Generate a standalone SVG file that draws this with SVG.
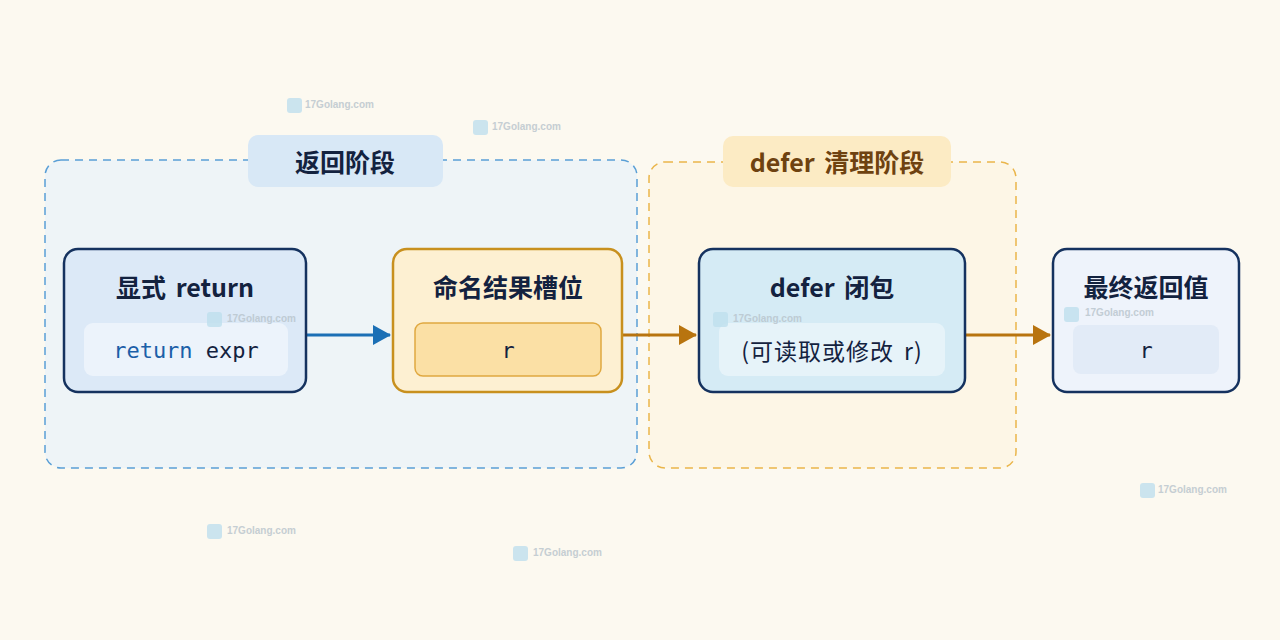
<svg xmlns="http://www.w3.org/2000/svg" width="1280" height="640" viewBox="0 0 1280 640">
<defs>
<marker id="ab" markerWidth="18" markerHeight="20" refX="17" refY="10" orient="auto" markerUnits="userSpaceOnUse" viewBox="0 0 18 20"><path d="M0,0 L18,10 L0,20 Z" fill="#1b6fb5"/></marker>
<marker id="ao" markerWidth="18" markerHeight="20" refX="17" refY="10" orient="auto" markerUnits="userSpaceOnUse" viewBox="0 0 18 20"><path d="M0,0 L18,10 L0,20 Z" fill="#b8740f"/></marker>
<style>
.t{font-family:"Noto Sans CJK SC","Noto Sans",sans-serif;font-weight:700;fill:#13223f;text-anchor:middle;word-spacing:4px}
.m{font-family:"DejaVu Sans Mono","Liberation Mono",monospace;font-size:22px;text-anchor:middle;fill:#13223f}
.w{font-family:"Liberation Sans",sans-serif;font-size:10px;font-weight:700;fill:#b8c4cc}
.node{stroke-width:2.5}
</style>
</defs>
<rect width="1280" height="640" fill="#fcf9f0"/>
<g id="group-return">
<rect x="45" y="160" width="592" height="308" rx="16" fill="#eef4f7" stroke="#5a9fd6" stroke-width="1.5" stroke-dasharray="8 6"/>
<rect x="248" y="135" width="195" height="52" rx="10" fill="#d8e8f6"/>
<text class="t" x="345" y="172" font-size="25">返回阶段</text>
</g>
<g id="group-defer">
<rect x="649" y="162" width="367" height="306" rx="16" fill="#fdf6e6" stroke="#eab54a" stroke-width="1.5" stroke-dasharray="8 6"/>
<rect x="723" y="136" width="228" height="51" rx="10" fill="#fcebc4"/>
<text class="t" x="837" y="172" font-size="25" style="fill:#6e4210">defer 清理阶段</text>
</g>
<g id="connectors">
<line x1="307" y1="335" x2="390" y2="335" stroke="#1b6fb5" stroke-width="3" marker-end="url(#ab)"/>
<line x1="623" y1="335" x2="696" y2="335" stroke="#b8740f" stroke-width="3" marker-end="url(#ao)"/>
<line x1="966" y1="335" x2="1050" y2="335" stroke="#b8740f" stroke-width="3" marker-end="url(#ao)"/>
</g>
<g id="node-return">
<rect class="node" x="64" y="249" width="242" height="143" rx="14" fill="#dce9f7" stroke="#15325f"/>
<text class="t" x="185" y="297" font-size="25">显式 return</text>
<rect x="84" y="323" width="204" height="53" rx="9" fill="#ecf3fb"/>
<text class="m" x="186" y="358"><tspan fill="#1b5fa8">return</tspan> expr</text>
</g>
<g id="node-slot">
<rect class="node" x="393" y="249" width="229" height="143" rx="14" fill="#fdf0d2" stroke="#c8901e"/>
<text class="t" x="508" y="297" font-size="25">命名结果槽位</text>
<rect x="415" y="323" width="186" height="53" rx="8" fill="#fbe0a5" stroke="#e0a840" stroke-width="1.5"/>
<text class="m" x="508" y="358">r</text>
</g>
<g id="node-defer">
<rect class="node" x="699" y="249" width="266" height="143" rx="14" fill="#d5ebf5" stroke="#15325f"/>
<text class="t" x="832" y="297" font-size="25">defer 闭包</text>
<rect x="719" y="323" width="226" height="53" rx="9" fill="#e6f3f9"/>
<text class="t" x="832" y="360" font-size="23" style="font-weight:400;letter-spacing:1px">(可读取或修改 r)</text>
</g>
<g id="node-final">
<rect class="node" x="1053" y="249" width="186" height="143" rx="14" fill="#eef3fb" stroke="#15325f"/>
<text class="t" x="1146" y="297" font-size="25">最终返回值</text>
<rect x="1073" y="325" width="146" height="49" rx="8" fill="#e2ebf7"/>
<text class="m" x="1146" y="358">r</text>
</g>
<g id="watermarks" opacity="0.8">
<rect x="287" y="98" width="15" height="15" rx="3" fill="#bfe0ee"/><text class="w" x="305" y="108">17Golang.com</text>
<rect x="473" y="120" width="15" height="15" rx="3" fill="#bfe0ee"/><text class="w" x="492" y="130">17Golang.com</text>
<rect x="207" y="312" width="15" height="15" rx="3" fill="#bfe0ee"/><text class="w" x="227" y="322">17Golang.com</text>
<rect x="713" y="312" width="15" height="15" rx="3" fill="#bfe0ee"/><text class="w" x="733" y="322">17Golang.com</text>
<rect x="1064" y="307" width="15" height="15" rx="3" fill="#bfe0ee"/><text class="w" x="1085" y="316">17Golang.com</text>
<rect x="1140" y="483" width="15" height="15" rx="3" fill="#bfe0ee"/><text class="w" x="1158" y="493">17Golang.com</text>
<rect x="207" y="524" width="15" height="15" rx="3" fill="#bfe0ee"/><text class="w" x="227" y="534">17Golang.com</text>
<rect x="513" y="546" width="15" height="15" rx="3" fill="#bfe0ee"/><text class="w" x="533" y="556">17Golang.com</text>
</g>
</svg>
